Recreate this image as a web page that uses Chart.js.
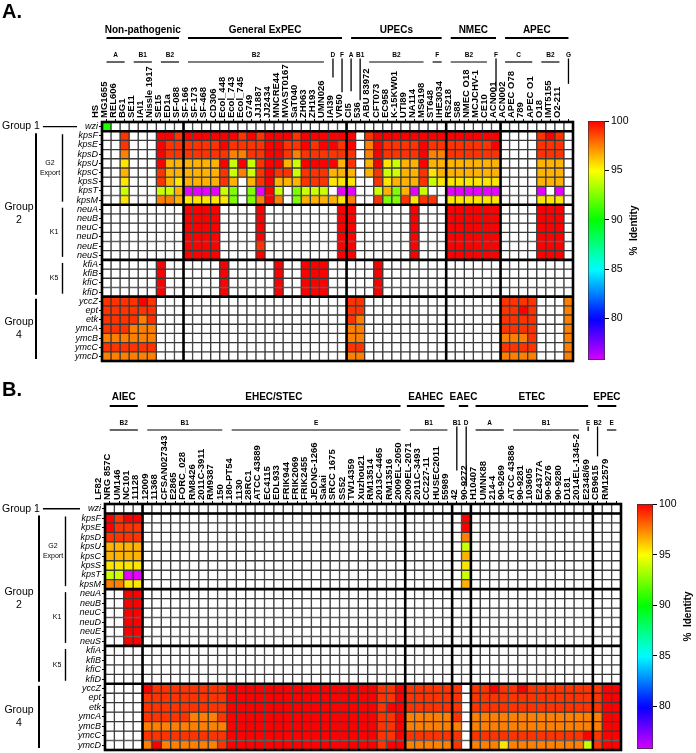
<!DOCTYPE html>
<html>
<head>
<meta charset="utf-8">
<script src="https://cdn.jsdelivr.net/npm/chart.js@4.4.1/dist/chart.umd.min.js"></script>
<style>
  body { margin: 0; background: #fff; }
  #page { position: relative; width: 696px; height: 753px; overflow: hidden; background: #fff; }
  #page canvas { position: absolute; }
</style>
</head>
<body>
<div id="page">
  <canvas id="heatA" width="580" height="368" style="left:0;top:0"></canvas>
  <canvas id="barA" width="118" height="262" style="left:578px;top:110px"></canvas>
  <canvas id="heatB" width="626" height="383" style="left:0;top:370px"></canvas>
  <canvas id="barB" width="68" height="259" style="left:628px;top:494px"></canvas>
</div>
<script>
var FONT = '"Liberation Sans", Arial, sans-serif';
var SCALE_MIN = 75;     // bottom of the colour map (magenta)
var BAR_MIN = 75.8;     // bottom of the drawn colour bar
var n = null;           // gene not detected

var genes = ['wzi', 'kpsF', 'kpsE', 'kpsD', 'kpsU', 'kpsC', 'kpsS', 'kpsT', 'kpsM',
    'neuA', 'neuB', 'neuC', 'neuD', 'neuE', 'neuS', 'kfiA', 'kfiB', 'kfiC', 'kfiD',
    'yccZ', 'ept', 'etk', 'ymcA', 'ymcB', 'ymcC', 'ymcD'];
var geneGroups = [['Group 1', 0, 0], ['Group 2', 1, 18], ['Group 4', 19, 25]];
var geneSubGroups = [['G2|Export', 1, 8], ['K1', 9, 14], ['K5', 15, 18]];
var barTicks = [80, 85, 90, 95, 100];

// ---- panel A ----
var strainsA = ['HS', 'MG1655', 'REL606', 'BG1', 'SE11', 'IAI1', 'Nissle 1917', 'SE15', 'ED1a',
    'SF-088', 'SF-166', 'SF-173', 'SF-468', 'CD306', 'Ecol_448', 'Ecol_743', 'Ecol_745', 'G749',
    'JJ1887', 'JJ2434', 'MNCRE44', 'MVAST0167', 'SaT040', 'ZH063', 'ZH193', 'UMN026', 'IAI39',
    'VR50', 'CI5', '536', 'ABU 83972', 'CFT073', 'EC958', 'K-15KW01', 'UTI89', 'NA114', 'MS6198', 'ST648',
    'IHE3034', 'RS218', 'S88', 'NMEC O18', 'MCJCHV-1', 'CE10',
    'ACN001', 'ACN002', 'APEC O78', '789', 'APEC O1', 'O18', 'IMT5155', 'O2-211'];
var pathotypesA = [['Non-pathogenic', 0, 8], ['General ExPEC', 9, 26], ['UPECs', 27, 37], ['NMEC', 38, 43], ['APEC', 44, 51]];
var phyloA = [['A', 0, 2], ['B1', 3, 5], ['B2', 6, 8], ['B2', 9, 24], ['D', 25, 25], ['F', 26, 26],
    ['A', 27, 27], ['B1', 28, 28], ['B2', 29, 35], ['F', 36, 37], ['B2', 38, 42], ['F', 43, 43],
    ['C', 44, 47], ['B2', 48, 50], ['G', 51, 51]];

var aWzi = [
    [90.5,n,n,n,n,n,n,n,n, n,n,n,n,n,n,n,n,n,n,n,n,n,n,n,n,n,n, n,n,n,n,n,n,n,n,n,n,n, n,n,n,n,n,n, n,n,n,n,n,n,n,n]
];
var aKps = [
    [n,n,99,n,n,n,100,100,99,
     100,100,100,100,100,100,99,100,99,100,100,100,99,100,100,100,100,100,
     100,n,99,100,100,100,100,100,100,100,100,
     100,100,100,100,100,100,
     n,n,n,n,99,100,99,n],
    [n,n,99,n,n,n,100,99,99,
     99,99,99,99,100,99,99,99,99,100,100,99,99,100,99,100,100,99,
     100,n,97.5,100,99,99,99,99,100,99,99,
     99,99,99,99,99,100,
     n,n,n,n,99,99,99,n],
    [n,n,97.5,n,n,n,100,99,99,
     99,99,99,99,99,97.5,97.5,99,99,100,100,99,97.5,99,99,99,99,99,
     99,n,97.5,100,99,99,99,99,100,97.5,97.5,
     99,99,99,99,99,99,
     n,n,n,n,99,99,99,n],
    [n,n,95.5,n,n,n,100,96.5,96.5,
     96.5,96.5,96.5,96.5,100,94,100,94,99,100,100,96.5,94,100,100,100,100,96.5,
     99,n,96.5,100,95.5,94,96.5,96.5,100,96.5,96.5,
     96.5,96.5,96.5,96.5,96.5,96.5,
     n,n,n,n,96.5,96.5,96.5,n],
    [n,n,96.5,n,n,n,99,96.5,96.5,
     96.5,96.5,96.5,96.5,99,94,97.5,94,99,100,99,99,94,99,99,99,96.5,96.5,
     96.5,n,96.5,99,94,94,96.5,96.5,99,95.5,96.5,
     96.5,96.5,96.5,96.5,96.5,96.5,
     n,n,n,n,96.5,96.5,96.5,n],
    [n,n,95.5,n,n,n,99,96.5,95.5,
     96.5,96.5,96.5,96.5,99,96.5,n,96.5,99,100,96.5,96.5,96.5,99,99,99,95.5,95.5,
     95.5,n,n,99,95.5,96.5,96.5,96.5,99,94,95.5,
     95.5,95.5,95.5,95.5,95.5,95.5,
     n,n,n,n,96.5,96.5,96.5,n],
    [n,n,94,n,n,n,94,94,96.5,
     75.5,75.5,75.5,75.5,94,92.5,n,92.5,75.5,100,94,n,92.5,94,94,94,n,75.5,
     75.5,n,n,94,96.5,92.5,96.5,75.5,94,n,n,
     75.5,75.5,75.5,75.5,75.5,75.5,
     n,n,n,n,75.5,n,75.5,n],
    [n,n,95.5,n,n,n,97.5,97.5,96.5,
     95.5,95.5,95.5,95.5,95.5,92.5,n,92.5,97.5,100,97.5,n,92.5,96.5,96.5,96.5,96.5,95.5,
     97.5,n,n,99,92.5,92.5,99,95.5,99,99,n,
     95.5,95.5,95.5,95.5,95.5,95.5,
     n,n,n,n,95.5,95.5,95.5,n]
];
var aNeu = [
    [n,n,n,n,n,n,n,n,n, 100,100,100,100,n,n,n,n,100,n,n,n,n,n,n,n,n,100, 100,n,n,n,n,n,n,100,n,n,n, 100,100,100,100,100,100, n,n,n,n,100,100,100,n],
    [n,n,n,n,n,n,n,n,n, 100,100,100,100,n,n,n,n,100,n,n,n,n,n,n,n,n,100, 100,n,n,n,n,n,n,100,n,n,n, 100,100,100,100,100,100, n,n,n,n,100,100,100,n],
    [n,n,n,n,n,n,n,n,n, 100,100,100,100,n,n,n,n,100,n,n,n,n,n,n,n,n,100, 100,n,n,n,n,n,n,100,n,n,n, 100,100,100,100,100,100, n,n,n,n,100,100,100,n],
    [n,n,n,n,n,n,n,n,n, 100,100,100,100,n,n,n,n,100,n,n,n,n,n,n,n,n,100, 100,n,n,n,n,n,n,100,n,n,n, 100,100,100,100,100,100, n,n,n,n,100,100,100,n],
    [n,n,n,n,n,n,n,n,n, 100,100,100,100,n,n,n,n,99,n,n,n,n,n,n,n,n,100, 100,n,n,n,n,n,n,100,n,n,n, 100,100,100,100,100,100, n,n,n,n,100,100,100,n],
    [n,n,n,n,n,n,n,n,n, 100,100,100,100,n,n,n,n,100,n,n,n,n,n,n,n,n,100, 100,n,n,n,n,n,n,100,n,n,n, 100,100,100,100,100,100, n,n,n,n,100,100,100,n]
];
var aKfi = [
    [n,n,n,n,n,n,100,n,n, n,n,n,n,100,n,n,n,n,n,100,n,n,100,100,100,n,n, n,n,n,100,n,n,n,n,n,n,n, n,n,n,n,n,n, n,n,n,n,n,n,n,n],
    [n,n,n,n,n,n,100,n,n, n,n,n,n,100,n,n,n,n,n,100,n,n,100,100,100,n,n, n,n,n,100,n,n,n,n,n,n,n, n,n,n,n,n,n, n,n,n,n,n,n,n,n],
    [n,n,n,n,n,n,100,n,n, n,n,n,n,100,n,n,n,n,n,100,n,n,100,100,100,n,n, n,n,n,100,n,n,n,n,n,n,n, n,n,n,n,n,n, n,n,n,n,n,n,n,n],
    [n,n,n,n,n,n,100,n,n, n,n,n,n,100,n,n,n,n,n,100,n,n,100,100,100,n,n, n,n,n,100,n,n,n,n,n,n,n, n,n,n,n,n,n, n,n,n,n,n,n,n,n]
];
var aG4 = [
    [99,99,99,99,100,99,n,n,n, n,n,n,n,n,n,n,n,n,n,n,n,n,n,n,n,n,n, 99,99,n,n,n,n,n,n,n,n,n, n,n,n,n,n,n, 99,99,99,99,n,n,n,97.5],
    [99,99,99,99,99,99,n,n,n, n,n,n,n,n,n,n,n,n,n,n,n,n,n,n,n,n,n, 99,99,n,n,n,n,n,n,n,n,n, n,n,n,n,n,n, 99,99,100,99,n,n,n,97.5],
    [99,99,99,99,97.5,99,n,n,n, n,n,n,n,n,n,n,n,n,n,n,n,n,n,n,n,n,n, 99,97.5,n,n,n,n,n,n,n,n,n, n,n,n,n,n,n, 99,99,99,99,n,n,n,97.5],
    [99,99,99,97.5,97.5,97.5,n,n,n, n,n,n,n,n,n,n,n,n,n,n,n,n,n,n,n,n,n, 97.5,97.5,n,n,n,n,n,n,n,n,n, n,n,n,n,n,n, 99,99,99,99,n,n,n,97.5],
    [97.5,97.5,97.5,97.5,97.5,97.5,n,n,n, n,n,n,n,n,n,n,n,n,n,n,n,n,n,n,n,n,n, 97.5,97.5,n,n,n,n,n,n,n,n,n, n,n,n,n,n,n, 97.5,97.5,97.5,99,n,n,n,97.5],
    [99,99,99,99,99,99,n,n,n, n,n,n,n,n,n,n,n,n,n,n,n,n,n,n,n,n,n, 99,99,n,n,n,n,n,n,n,n,n, n,n,n,n,n,n, 99,99,99,99,n,n,n,97.5],
    [97.5,97.5,97.5,97.5,97.5,97.5,n,n,n, n,n,n,n,n,n,n,n,n,n,n,n,n,n,n,n,n,n, 97.5,97.5,n,n,n,n,n,n,n,n,n, n,n,n,n,n,n, 97.5,97.5,97.5,97.5,n,n,n,97.5]
];

// ---- panel B ----
var strainsB = ['LF82', 'NRG 857C', 'UM146', 'NC101',
    '11128', '12009', '11368', 'CFSAN027343', 'E2865', 'FORC_028', 'RM8426', '2011C-3911', 'RM9387',
    '150', '180-PT54', '1130', '28RC1', 'ATCC 43889', 'EC4115', 'EDL933', 'FRIK944', 'FRIK2069', 'FRIK2455',
    'JEONG-1266', 'Sakai', 'SRCC 1675', 'SS52', 'TW14359', 'Xuzhou21', 'RM13514', '2013C-4465', 'RM13516',
    '2009EL-2050', '2009EL-2071', '2011C-3493', 'CC227-11', 'HUSEC2011',
    '55989', '42',
    '90-9272', 'H10407', 'UMNK88', '214-4', '90-9269', 'ATCC 43886', '90-9281', '103605', 'E24377A',
    '90-9276', '90-9280', 'D181', '2014EL-1345-2',
    'E2348/69', 'CB9615', 'RM12579'];
// name, first column, last column, label shift in px
var pathotypesB = [['AIEC', 0, 3, 0], ['EHEC/STEC', 4, 31, 0], ['EAHEC', 32, 36, -3], ['EAEC', 37, 38, 2], ['ETEC', 39, 51, 0], ['EPEC', 52, 54, 0]];
var phyloB = [['B2', 0, 3], ['B1', 4, 12], ['E', 13, 31], ['B1', 32, 36], ['B1', 37, 37], ['D', 38, 38],
    ['A', 39, 42], ['B1', 43, 50], ['E', 51, 51], ['B2', 52, 52], ['E', 53, 54]];

var bWzi = [
    [n,n,n,n, n,n,n,n,n,n,n,n,n, n,n,n,n,n,n,n,n,n,n,n,n,n,n,n,n,n,n,n, n,n,n,n,n, n,n, n,n,n,n,n,n,n,n,n,n,n,n,n, n,n,n]
];
var bKps = [
    [100,99,100,100, n,n,n,n,n,n,n,n,n, n,n,n,n,n,n,n,n,n,n,n,n,n,n,n,n,n,n,n, n,n,n,n,n, n,100, n,n,n,n,n,n,n,n,n,n,n,n,n, n,n,n],
    [100,99,99,99, n,n,n,n,n,n,n,n,n, n,n,n,n,n,n,n,n,n,n,n,n,n,n,n,n,n,n,n, n,n,n,n,n, n,100, n,n,n,n,n,n,n,n,n,n,n,n,n, n,n,n],
    [99,99,99,99, n,n,n,n,n,n,n,n,n, n,n,n,n,n,n,n,n,n,n,n,n,n,n,n,n,n,n,n, n,n,n,n,n, n,97.5, n,n,n,n,n,n,n,n,n,n,n,n,n, n,n,n],
    [96.5,96.5,96.5,96.5, n,n,n,n,n,n,n,n,n, n,n,n,n,n,n,n,n,n,n,n,n,n,n,n,n,n,n,n, n,n,n,n,n, n,94, n,n,n,n,n,n,n,n,n,n,n,n,n, n,n,n],
    [96.5,96.5,96.5,96.5, n,n,n,n,n,n,n,n,n, n,n,n,n,n,n,n,n,n,n,n,n,n,n,n,n,n,n,n, n,n,n,n,n, n,96.5, n,n,n,n,n,n,n,n,n,n,n,n,n, n,n,n],
    [95.5,95.5,95.5,95.5, n,n,n,n,n,n,n,n,n, n,n,n,n,n,n,n,n,n,n,n,n,n,n,n,n,n,n,n, n,n,n,n,n, n,95.5, n,n,n,n,n,n,n,n,n,n,n,n,n, n,n,n],
    [94,94,75.5,75.5, n,n,n,n,n,n,n,n,n, n,n,n,n,n,n,n,n,n,n,n,n,n,n,n,n,n,n,n, n,n,n,n,n, n,94, n,n,n,n,n,n,n,n,n,n,n,n,n, n,n,n],
    [97.5,97.5,95.5,95.5, n,n,n,n,n,n,n,n,n, n,n,n,n,n,n,n,n,n,n,n,n,n,n,n,n,n,n,n, n,n,n,n,n, n,96.5, n,n,n,n,n,n,n,n,n,n,n,n,n, n,n,n]
];
var bNeu = [
    [n,n,100,100, n,n,n,n,n,n,n,n,n, n,n,n,n,n,n,n,n,n,n,n,n,n,n,n,n,n,n,n, n,n,n,n,n, n,n, n,n,n,n,n,n,n,n,n,n,n,n,n, n,n,n],
    [n,n,100,100, n,n,n,n,n,n,n,n,n, n,n,n,n,n,n,n,n,n,n,n,n,n,n,n,n,n,n,n, n,n,n,n,n, n,n, n,n,n,n,n,n,n,n,n,n,n,n,n, n,n,n],
    [n,n,100,100, n,n,n,n,n,n,n,n,n, n,n,n,n,n,n,n,n,n,n,n,n,n,n,n,n,n,n,n, n,n,n,n,n, n,n, n,n,n,n,n,n,n,n,n,n,n,n,n, n,n,n],
    [n,n,100,100, n,n,n,n,n,n,n,n,n, n,n,n,n,n,n,n,n,n,n,n,n,n,n,n,n,n,n,n, n,n,n,n,n, n,n, n,n,n,n,n,n,n,n,n,n,n,n,n, n,n,n],
    [n,n,100,100, n,n,n,n,n,n,n,n,n, n,n,n,n,n,n,n,n,n,n,n,n,n,n,n,n,n,n,n, n,n,n,n,n, n,n, n,n,n,n,n,n,n,n,n,n,n,n,n, n,n,n],
    [n,n,100,100, n,n,n,n,n,n,n,n,n, n,n,n,n,n,n,n,n,n,n,n,n,n,n,n,n,n,n,n, n,n,n,n,n, n,n, n,n,n,n,n,n,n,n,n,n,n,n,n, n,n,n]
];
var bKfi = [
    [n,n,n,n, n,n,n,n,n,n,n,n,n, n,n,n,n,n,n,n,n,n,n,n,n,n,n,n,n,n,n,n, n,n,n,n,n, n,n, n,n,n,n,n,n,n,n,n,n,n,n,n, n,n,n],
    [n,n,n,n, n,n,n,n,n,n,n,n,n, n,n,n,n,n,n,n,n,n,n,n,n,n,n,n,n,n,n,n, n,n,n,n,n, n,n, n,n,n,n,n,n,n,n,n,n,n,n,n, n,n,n],
    [n,n,n,n, n,n,n,n,n,n,n,n,n, n,n,n,n,n,n,n,n,n,n,n,n,n,n,n,n,n,n,n, n,n,n,n,n, n,n, n,n,n,n,n,n,n,n,n,n,n,n,n, n,n,n],
    [n,n,n,n, n,n,n,n,n,n,n,n,n, n,n,n,n,n,n,n,n,n,n,n,n,n,n,n,n,n,n,n, n,n,n,n,n, n,n, n,n,n,n,n,n,n,n,n,n,n,n,n, n,n,n]
];
var bG4 = [
    [n,n,n,n, 100,99,99,99,99,99,99,99,99, 100,100,100,100,100,100,100,100,100,100,100,100,100,100,100,100,99,99,100,
     99,99,99,99,99, 99,n, 99,99,100,99,99,100,99,99,99,99,99,99,99, 99,100,100],
    [n,n,n,n, 99,99,99,99,99,99,99,99,99, 100,100,100,100,100,100,100,100,100,100,100,100,100,100,100,100,99,99,100,
     99,99,99,99,99, 99,n, 99,99,99,99,99,99,99,99,99,99,99,99,99, 99,100,100],
    [n,n,n,n, 99,99,99,99,99,99,99,99,99, 100,100,100,100,100,100,100,100,100,100,100,100,100,100,100,100,99,100,100,
     99,99,99,99,99, 99,n, 99,99,99,99,99,99,99,99,99,99,99,99,99, 99,100,100],
    [n,n,n,n, 99,99,99,99,99,97.5,97.5,97.5,99, 100,100,100,100,100,100,100,100,100,100,100,100,100,100,100,100,99,99,100,
     97.5,97.5,97.5,97.5,97.5, 99,n, 97.5,97.5,97.5,97.5,97.5,97.5,97.5,97.5,97.5,97.5,97.5,97.5,97.5, 97.5,100,100],
    [n,n,n,n, 97.5,97.5,97.5,97.5,97.5,97.5,97.5,97.5,97.5, 100,100,100,100,100,100,100,100,100,100,100,100,100,100,100,100,99,99,100,
     97.5,97.5,97.5,97.5,97.5, 97.5,n, 97.5,97.5,97.5,97.5,97.5,97.5,97.5,97.5,97.5,97.5,97.5,97.5,97.5, 97.5,100,100],
    [n,n,n,n, 99,99,99,99,99,99,99,99,99, 100,100,100,100,100,100,100,100,100,100,100,100,100,100,100,100,99,99,100,
     99,99,99,99,99, 99,n, 99,99,99,99,99,99,99,99,99,99,99,99,100, 99,100,100],
    [n,n,n,n, 97.5,100,97.5,97.5,97.5,97.5,97.5,97.5,99, 100,100,100,100,100,100,100,100,100,100,100,100,100,100,100,100,99,100,100,
     97.5,97.5,97.5,97.5,97.5, 99,n, 97.5,97.5,97.5,95.5,97.5,97.5,97.5,97.5,97.5,97.5,97.5,97.5,94, 99,100,100]
];

function identityColor(v) {
    if (v === null || v === undefined) {
        return '#ffffff';
    }
    var t = Math.max(0, Math.min(1, (100 - v) / (100 - SCALE_MIN)));
    return 'hsl(' + (t * 300).toFixed(1) + ',100%,50%)';
}

function line(ctx, x0, y0, x1, y1) {
    ctx.beginPath();
    ctx.moveTo(x0, y0);
    ctx.lineTo(x1, y1);
    ctx.stroke();
}

function decorPlugin(opt) {
    return {
        id: 'decor',
        afterDatasetsDraw: function (chart) {
            var ctx = chart.ctx, xs = chart.scales.x, ys = chart.scales.y, a = chart.chartArea;
            ctx.save();
            ctx.strokeStyle = '#000';
            ctx.lineWidth = 2.6;
            opt.sepCols.forEach(function (c) {
                var x = xs.getPixelForValue(c - 0.5);
                line(ctx, x, a.top, x, a.bottom);
            });
            [1, 9, 15, 19].forEach(function (r) {
                var y = ys.getPixelForValue(r);
                line(ctx, a.left, y, a.right, y);
            });
            ctx.strokeRect(a.left, a.top, a.right - a.left, a.bottom - a.top);
            ctx.restore();
        },
        afterDraw: function (chart) {
            var ctx = chart.ctx, xs = chart.scales.x, ys = chart.scales.y, a = chart.chartArea;
            ctx.save();
            ctx.fillStyle = '#000';
            ctx.strokeStyle = '#000';

            ctx.font = 'bold 20px ' + FONT;
            ctx.textAlign = 'left';
            ctx.textBaseline = 'alphabetic';
            ctx.fillText(opt.letter, 2, opt.letterY);

            ctx.textAlign = 'center';
            opt.pathotypes.forEach(function (p) {
                var dx = p[3] || 0;
                var x0 = xs.getPixelForValue(p[1]) + dx, x1 = xs.getPixelForValue(p[2]) + dx;
                ctx.font = 'bold 10px ' + FONT;
                ctx.fillText(p[0], (x0 + x1) / 2, opt.headY);
                ctx.lineWidth = 2;
                line(ctx, x0, opt.headLineY, x1, opt.headLineY);
            });

            opt.phylo.forEach(function (p) {
                var x0 = xs.getPixelForValue(p[1]), x1 = xs.getPixelForValue(p[2]);
                ctx.font = 'bold 6.5px ' + FONT;
                ctx.fillText(p[0], (x0 + x1) / 2, opt.phyloY);
                if (p[1] === p[2]) {
                    ctx.font = 'bold ' + opt.strainSize + 'px ' + FONT;
                    var top = a.top - 4 - ctx.measureText(opt.strains[p[1]]).width - 3;
                    ctx.lineWidth = 1.3;
                    line(ctx, x0, opt.phyloY + 2, x0, top);
                } else {
                    ctx.lineWidth = 1.2;
                    line(ctx, x0, opt.phyloLineY, x1, opt.phyloLineY);
                }
            });

            // gene groups on the left
            ctx.font = '10.5px ' + FONT;
            ctx.textBaseline = 'middle';
            geneGroups.forEach(function (g) {
                var y0 = ys.getPixelForValue(g[1]), y1 = ys.getPixelForValue(g[2] + 1);
                if (g[1] === g[2]) {
                    var ym = (y0 + y1) / 2;
                    ctx.textAlign = 'left';
                    ctx.fillText(g[0], 2, ym);
                    ctx.lineWidth = 1.3;
                    line(ctx, 2 + ctx.measureText(g[0]).width + 3, ym, a.left - 25, ym);
                } else {
                    var parts = g[0].split(' ');
                    ctx.textAlign = 'center';
                    ctx.fillText(parts[0], 19, (y0 + y1) / 2 - 6.5);
                    ctx.fillText(parts[1], 19, (y0 + y1) / 2 + 6.5);
                    ctx.lineWidth = 2;
                    line(ctx, a.left - 66, y0 + 2, a.left - 66, y1 - 2);
                }
            });
            ctx.font = '7px ' + FONT;
            ctx.textAlign = 'center';
            geneSubGroups.forEach(function (g) {
                var y0 = ys.getPixelForValue(g[1]), y1 = ys.getPixelForValue(g[2] + 1);
                var parts = g[0].split('|');
                var ym = (y0 + y1) / 2;
                if (parts.length === 2) {
                    ctx.fillText(parts[0], a.left - 52, ym - 5);
                    ctx.fillText(parts[1], a.left - 52, ym + 5);
                } else {
                    ctx.fillText(parts[0], a.left - 48, ym);
                }
                ctx.lineWidth = 1.4;
                line(ctx, a.left - 39.5, y0 + 3, a.left - 39.5, y1 - 3);
            });
            ctx.restore();
        }
    };
}

function makeHeatmap(id, strains, rows, opt) {
    var canvas = document.getElementById(id);
    var datasets = genes.map(function (g, j) {
        return {
            label: g,
            data: strains.map(function () { return [j, j + 1]; }),
            backgroundColor: rows[j].map(identityColor),
            borderColor: '#3a3a3a',
            borderWidth: 1,
            borderSkipped: false,
            grouped: false,
            barPercentage: 1,
            categoryPercentage: 1
        };
    });
    return new Chart(canvas, {
        type: 'bar',
        data: { labels: strains, datasets: datasets },
        options: {
            responsive: false,
            animation: false,
            layout: { padding: opt.padding },
            plugins: { legend: { display: false }, tooltip: { enabled: false } },
            scales: {
                x: {
                    position: 'top',
                    afterFit: function (s) { s.height = opt.axisHeight; s.paddingLeft = 0; s.paddingRight = 0; },
                    grid: { offset: false, drawOnChartArea: false, tickLength: 3, color: '#000' },
                    border: { display: false },
                    ticks: {
                        autoSkip: false, minRotation: 90, maxRotation: 90, padding: 1, color: '#000',
                        font: { family: FONT, size: opt.strainSize, weight: 'bold' }
                    }
                },
                y: {
                    type: 'linear', min: 0, max: genes.length, reverse: true,
                    afterFit: function (s) { s.width = 32; s.paddingTop = 0; s.paddingBottom = 0; },
                    afterBuildTicks: function (s) {
                        s.ticks = genes.map(function (g, j) { return { value: j + 0.5 }; });
                    },
                    grid: { drawOnChartArea: false, tickLength: 3, color: '#000' },
                    border: { display: false },
                    ticks: {
                        autoSkip: false, padding: 1, color: '#000',
                        callback: function (v, i) { return genes[i]; },
                        font: { family: FONT, size: 9, style: 'italic' }
                    }
                }
            }
        },
        plugins: [decorPlugin(opt)]
    });
}

function makeColorbar(id, opt) {
    return new Chart(document.getElementById(id), {
        type: 'bar',
        data: {
            labels: [''],
            datasets: [{
                data: [[BAR_MIN, 100]],
                backgroundColor: function (c) {
                    var chart = c.chart, ys = chart.scales.y;
                    if (!chart.chartArea || !ys) {
                        return '#ffffff';
                    }
                    var g = chart.ctx.createLinearGradient(0, ys.getPixelForValue(100), 0, ys.getPixelForValue(BAR_MIN));
                    for (var i = 0; i <= 24; i++) {
                        g.addColorStop(i / 24, identityColor(100 - i * (100 - BAR_MIN) / 24));
                    }
                    return g;
                },
                borderColor: '#333',
                borderWidth: 1,
                borderSkipped: false,
                barPercentage: 1,
                categoryPercentage: 1
            }]
        },
        options: {
            responsive: false,
            animation: false,
            layout: { padding: opt.padding },
            plugins: { legend: { display: false }, tooltip: { enabled: false } },
            scales: {
                x: { display: false },
                y: {
                    position: 'right', min: BAR_MIN, max: 100,
                    afterFit: function (s) { s.width = opt.axisWidth; s.paddingTop = 0; s.paddingBottom = 0; },
                    afterBuildTicks: function (s) {
                        s.ticks = barTicks.map(function (v) { return { value: v }; });
                    },
                    grid: { drawOnChartArea: false, tickLength: 4, color: '#000' },
                    border: { display: false },
                    ticks: { padding: 2, color: '#000', font: { family: FONT, size: 10.5 } }
                }
            }
        },
        plugins: [{
            id: 'barTitle',
            afterDraw: function (chart) {
                var ctx = chart.ctx, a = chart.chartArea;
                ctx.save();
                ctx.translate(opt.titleX, (a.top + a.bottom) / 2 - 10);
                ctx.rotate(-Math.PI / 2);
                ctx.font = 'bold 10px ' + FONT;
                ctx.fillStyle = '#000';
                ctx.textAlign = 'center';
                ctx.textBaseline = 'middle';
                ctx.fillText('%  Identity', 0, 0);
                ctx.restore();
            }
        }]
    });
}

makeHeatmap('heatA', strainsA, aWzi.concat(aKps, aNeu, aKfi, aG4), {
    letter: 'A.', letterY: 18,
    headY: 33, headLineY: 38, phyloY: 56.5, phyloLineY: 62,
    padding: { left: 70, right: 7, top: 0, bottom: 7 },
    axisHeight: 122, strainSize: 9.5,
    sepCols: [9, 27, 38, 44],
    pathotypes: pathotypesA, phylo: phyloA, strains: strainsA
});
makeHeatmap('heatB', strainsB, bWzi.concat(bKps, bNeu, bKfi, bG4), {
    letter: 'B.', letterY: 26,
    headY: 30, headLineY: 36, phyloY: 54.5, phyloLineY: 60,
    padding: { left: 73, right: 5, top: 0, bottom: 3 },
    axisHeight: 134, strainSize: 9.5,
    sepCols: [4, 32, 37, 39, 52],
    pathotypes: pathotypesB, phylo: phyloB, strains: strainsB
});
makeColorbar('barA', { padding: { left: 10, right: 0, top: 11, bottom: 12 }, axisWidth: 91, titleX: 56 });
makeColorbar('barB', { padding: { left: 9, right: 0, top: 10, bottom: 4 }, axisWidth: 43, titleX: 60 });
</script>
</body>
</html>
